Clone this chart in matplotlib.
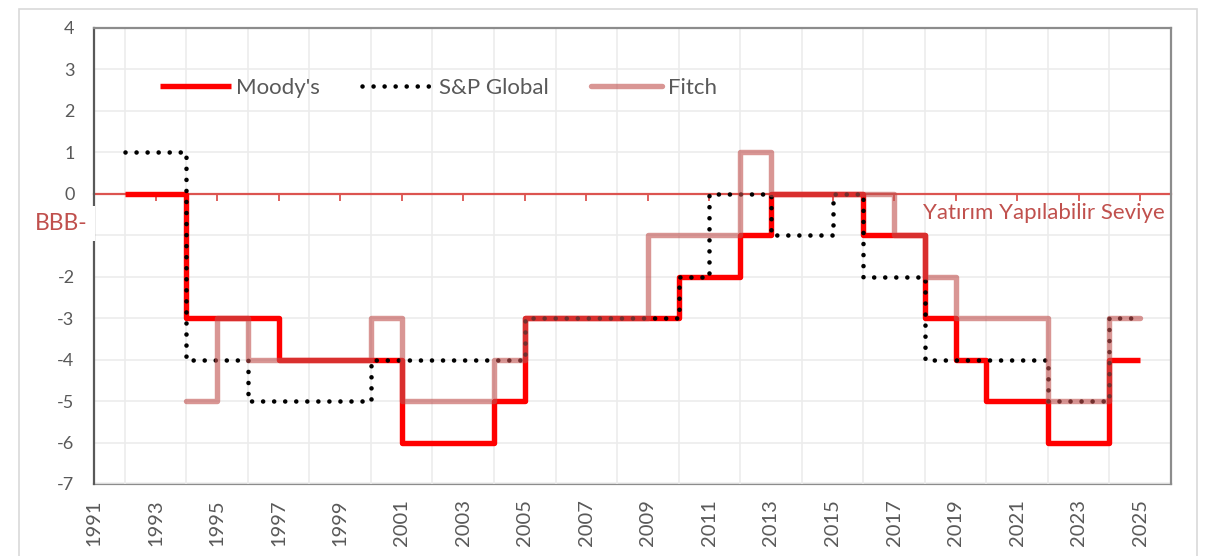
import matplotlib
matplotlib.use("Agg")
import matplotlib.pyplot as plt
import matplotlib.transforms as mtransforms
from matplotlib.patches import Rectangle

plt.rcParams['font.family'] = ['Lato', 'DejaVu Sans']

# ratings relative to BBB- (0 = BBB-)
moodys_years = list(range(1992, 2026))
moodys = [0, 0, -3, -3, -3, -4, -4, -4, -4, -6, -6, -6, -5, -3, -3, -3, -3, -3,
          -2, -2, -1, 0, 0, 0, -1, -1, -3, -4, -5, -5, -6, -6, -4, -4]
sp_years = list(range(1992, 2026))
sp = [1, 1, -4, -4, -5, -5, -5, -5, -4, -4, -4, -4, -4, -3, -3, -3, -3, -3,
      -2, 0, 0, -1, -1, 0, -2, -2, -4, -4, -4, -4, -5, -5, -3, -3]
fitch_years = list(range(1994, 2026))
fitch = [-5, -3, -4, -4, -4, -4, -3, -5, -5, -5, -4, -3, -3, -3, -3, -1, -1, -1,
         1, 0, 0, 0, 0, -1, -2, -3, -3, -3, -5, -5, -3, -3]
label_years = list(range(1991, 2026, 2))
yticks = list(range(-7, 5))

red_txt = '#C0504D'
gray_txt = '#595959'

fig = plt.figure(figsize=(12.31, 5.56), dpi=100)
ax = fig.add_axes([94/1231, 1 - 484/556, 1077/1231, 456/556])

# outer chart frame
fig.patches.append(Rectangle((19/1231, -0.05), 1178/1231, 1.05 - 9/556,
                             transform=fig.transFigure, fill=False,
                             edgecolor='#D9D9D9', lw=1.2))

ax.set_xlim(1991, 2026)
ax.set_ylim(-7, 4)

# grid
ax.set_xticks(range(1991, 2027), minor=True)
ax.set_yticks(yticks)
ax.grid(True, which='minor', axis='x', color='#ECECEC', lw=1.2, zorder=0)
ax.grid(True, which='major', axis='y', color='#ECECEC', lw=1.2, zorder=0)
ax.set_axisbelow(True)

# x axis crosses at 0 (red line with ticks)
ax.spines['bottom'].set_position(('data', 0))
ax.spines['bottom'].set_color('#DC5450')
ax.spines['bottom'].set_linewidth(1.6)
ax.spines['bottom'].set_zorder(1)
ax.set_xticks(label_years)
ax.tick_params(axis='x', which='major', direction='out', length=5, width=1.3,
               color='#DC5450', labelbottom=False)
ax.tick_params(axis='x', which='minor', length=0)

ax.spines['left'].set_color('#595959')
ax.spines['left'].set_linewidth(1.6)
for s in ['top', 'right']:
    ax.spines[s].set_color('#8C8C8C')
    ax.spines[s].set_linewidth(1.6)

# bottom labels on a secondary axis
sec = ax.secondary_xaxis('bottom')
sec.set_xticks(label_years)
sec.set_xticklabels([str(y) for y in label_years], rotation=90)
sec.tick_params(length=0, pad=11, labelsize=14.5, labelcolor=gray_txt)
sec.spines['bottom'].set_color('#8C8C8C')
sec.spines['bottom'].set_linewidth(1.6)

ax.set_yticklabels(['' if v == -1 else str(v) for v in yticks])
ax.tick_params(axis='y', length=0, pad=14, labelsize=13, labelcolor=gray_txt)

# series
ax.step(moodys_years, moodys, where='post', color='#FF0000', lw=3.9,
        solid_joinstyle='round', solid_capstyle='butt', label="Moody's", zorder=3)
ax.step(sp_years, sp, where='post', color='black', lw=3.3,
        linestyle=(0, (0.01, 2.4)), dash_capstyle='round', label='S&P Global', zorder=4)
ax.step(fitch_years, fitch, where='post', color='#C0504D', alpha=0.6, lw=3.9,
        solid_joinstyle='round', solid_capstyle='round', label='Fitch', zorder=5)

leg = ax.legend(loc='center left', bbox_to_anchor=(0.061, 0.868), ncol=3,
                frameon=False, fontsize=16, handlelength=3.2, handletextpad=0.25,
                columnspacing=1.9, borderpad=0, borderaxespad=0)
for t in leg.get_texts():
    t.set_color(gray_txt)

trans = mtransforms.blended_transform_factory(ax.transAxes, ax.transData)
ax.text(-0.0056, -0.72, 'BBB-', transform=trans, ha='right', va='center',
        fontsize=16.5, color=red_txt, clip_on=False, zorder=6,
        bbox=dict(boxstyle='square,pad=0.3', facecolor='white', edgecolor='none'))
ax.text(0.9944, -0.46, 'Yatırım Yapılabilir Seviye', transform=trans,
        ha='right', va='center', fontsize=16, color=red_txt, zorder=6)

fig.savefig('out.png', dpi=100)
